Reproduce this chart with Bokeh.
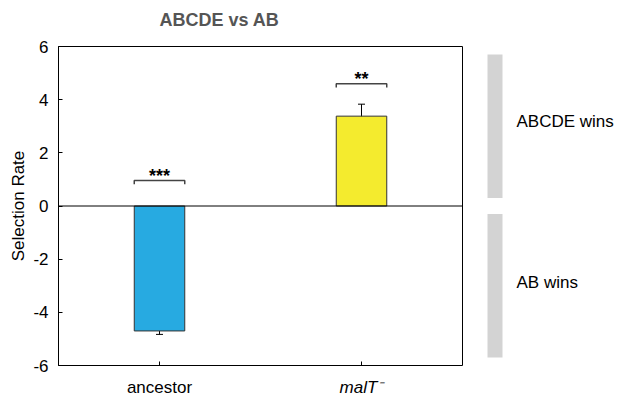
from bokeh.plotting import figure
from bokeh.layouts import row, column
from bokeh.models import (Range1d, FixedTicker, Span, Whisker, TeeHead,
                          ColumnDataSource)
from bokeh.core.properties import value
from bokeh.embed import file_html
from bokeh.resources import INLINE

# Selection rate of the ABCDE strain against AB, per background
strains = ["ancestor", "malT\u207b"]
rates = [-4.70, 3.38]
errors = [0.13, 0.45]
stars = ["***", "**"]
bracket_levels = [0.96, 4.60]
bar_colors = ["#27aae1", "#f4eb2e"]
y_ticks = [-6, -4, -2, 0, 2, 4, 6]

FONT = "Liberation Sans"
xpos = [i + 1 for i in range(len(strains))]
bar_w = 0.25
x_range = Range1d(0.5, 2.5)


def bare(fig):
    fig.outline_line_color = None
    fig.xgrid.visible = False
    fig.ygrid.visible = False
    fig.border_fill_color = "white"
    fig.background_fill_color = "white"
    return fig


# title strip
head = bare(figure(width=464, height=36, output_backend="svg",
                   toolbar_location=None, title=None,
                   x_range=Range1d(0, 404), y_range=Range1d(0, 36),
                   x_axis_location=None, y_axis_location=None,
                   min_border_left=58, min_border_right=2,
                   min_border_top=0, min_border_bottom=0))
head.text(x=[101], y=[17], text=["ABCDE vs AB"], text_align="left",
          text_baseline="middle", text_font=value(FONT),
          text_font_size="18px", text_font_style="bold", text_color="#555555")

# main bar chart
p = figure(width=464, height=339, output_backend="svg", toolbar_location=None,
           title=None, x_range=x_range, y_range=Range1d(-6, 6),
           x_axis_location=None,
           min_border_left=58, min_border_right=2, min_border_top=10,
           min_border_bottom=10)
p.xgrid.visible = False
p.ygrid.visible = False
p.outline_line_color = "black"
p.outline_line_width = 1
p.background_fill_color = "white"
p.border_fill_color = "white"

p.yaxis.ticker = FixedTicker(ticks=y_ticks)
p.yaxis.major_label_overrides = {t: str(t) for t in y_ticks}
p.yaxis.minor_tick_line_color = None
p.yaxis.major_tick_in = 4
p.yaxis.major_tick_out = 0
p.yaxis.major_label_standoff = 10
p.yaxis.major_label_text_font = FONT
p.yaxis.major_label_text_font_size = "17px"
p.yaxis.major_label_text_color = "black"
p.yaxis.axis_line_color = "black"
p.yaxis.major_tick_line_color = "black"
p.yaxis.axis_label = "Selection Rate"
p.yaxis.axis_label_text_font = FONT
p.yaxis.axis_label_text_font_size = "17px"
p.yaxis.axis_label_text_font_style = "normal"
p.yaxis.axis_label_text_color = "black"
p.yaxis.axis_label_standoff = 2

src = ColumnDataSource(dict(
    x=xpos, top=rates, color=bar_colors,
    upper=[r + e for r, e in zip(rates, errors)],
    lower=[r - e for r, e in zip(rates, errors)],
))

p.vbar(x="x", top="top", bottom=0, width=bar_w, fill_color="color",
       line_color="#333333", line_width=1, source=src)

p.add_layout(Span(location=0, dimension="width", line_color="black",
                  line_width=1))

p.add_layout(Whisker(base="x", upper="upper", lower="lower", source=src,
                     line_color="black", line_width=1,
                     upper_head=TeeHead(size=7, line_color="black", line_width=1),
                     lower_head=TeeHead(size=7, line_color="black", line_width=1)))

# inward category ticks on the bottom edge
p.segment(x0=xpos, x1=xpos, y0=-6, y1=-5.85, line_color="black", line_width=1)

# significance brackets over each bar
leg = 0.14
bx, by = [], []
for x, lvl in zip(xpos, bracket_levels):
    l, r = x - bar_w / 2, x + bar_w / 2
    bx.append([l, l, r, r])
    by.append([lvl - leg, lvl, lvl, lvl - leg])
p.multi_line(xs=bx, ys=by, line_color="#444444", line_width=1.5)
p.text(x=xpos, y=[lvl + 0.17 for lvl in bracket_levels], text=stars,
       text_align="center", text_baseline="alphabetic",
       text_font=value(FONT), text_font_size="18px", text_font_style="bold",
       text_color="black")

# category names under the plot
lab = bare(figure(width=464, height=22, output_backend="svg",
                  toolbar_location=None, title=None,
                  x_range=x_range, y_range=Range1d(0, 22),
                  x_axis_location=None, y_axis_location=None,
                  min_border_left=58, min_border_right=2, min_border_top=0,
                  min_border_bottom=0))
lab.text(x=xpos[:1], y=10, text=strains[:1], text_align="center",
         text_baseline="middle", text_font=value(FONT),
         text_font_size="17px", text_color="black")
lab.text(x=xpos[1:], y=10, text=strains[1:], text_align="center",
         text_baseline="middle", text_font=value(FONT),
         text_font_size="17px", text_font_style="italic", text_color="black")

# side panel: which strain wins
s = bare(figure(width=157, height=397, output_backend="svg",
                toolbar_location=None, title=None,
                x_range=Range1d(0, 157), y_range=Range1d(-6, 6),
                x_axis_location=None, y_axis_location=None,
                min_border_left=0, min_border_right=0, min_border_top=46,
                min_border_bottom=32))

zones = ["ABCDE wins", "AB wins"]
zone_lo = [0.3, -5.7]
zone_hi = [5.7, -0.3]
zone_text_y = [3.18, -2.88]
s.quad(left=23, right=38, bottom=zone_lo, top=zone_hi,
       fill_color="#d3d3d3", line_color=None)
s.text(x=[52, 52], y=zone_text_y, text=zones, text_align="left",
       text_baseline="middle", text_font=value(FONT), text_font_size="17px",
       text_color="black")

layout = row(column(head, p, lab), s)
open("out.html", "w").write(file_html(layout, INLINE))
